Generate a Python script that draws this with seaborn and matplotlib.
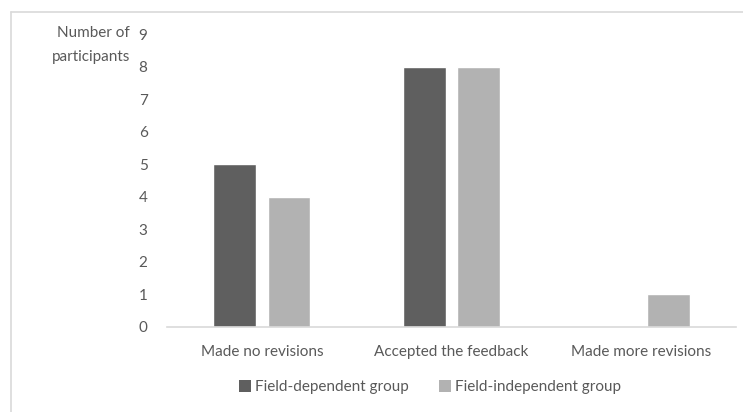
import matplotlib
matplotlib.use("Agg")
import matplotlib.pyplot as plt
from matplotlib.lines import Line2D
from matplotlib.patches import Patch
import pandas as pd
import seaborn as sns

categories = ["Made no revisions", "Accepted the feedback", "Made more revisions"]
groups = ["Field-dependent group", "Field-independent group"]
field_dependent = [5, 8, 0]
field_independent = [4, 8, 1]
y_ticks = list(range(0, 10))

colors = {"Field-dependent group": "#5f5f5f", "Field-independent group": "#b2b2b2"}
text_color = "#595959"

sns.set_theme(style="white")
plt.rcParams["font.family"] = ["Lato", "DejaVu Sans"]

df = pd.DataFrame({
    "category": categories * 2,
    "group": [groups[0]] * 3 + [groups[1]] * 3,
    "value": field_dependent + field_independent,
})

fig = plt.figure(figsize=(7.43, 4.12), dpi=100)
ax = fig.add_axes([167 / 743, 1 - 327 / 412, (736 - 167) / 743, (327 - 34) / 412])

sns.barplot(data=df, x="category", y="value", hue="group", order=categories,
            hue_order=groups, palette=colors, width=0.57, gap=0.21,
            saturation=1, ax=ax, legend=False, errorbar=None)

ax.set_ylim(0, 9)
ax.set_xlim(-0.5, 2.5)
ax.set_yticks(y_ticks)
ax.set_xlabel("")
ax.set_ylabel("")
for side in ["top", "right", "left"]:
    ax.spines[side].set_visible(False)
ax.spines["bottom"].set_color("#d9d9d9")
ax.spines["bottom"].set_linewidth(1.2)
ax.tick_params(axis="both", length=0, colors=text_color, labelsize=11)
ax.tick_params(axis="y", pad=14)
ax.tick_params(axis="x", pad=13)

fig.text(130 / 743, 1 - 45 / 412, "Number of\nparticipants", ha="right", va="center",
         color=text_color, fontsize=11, linespacing=1.85)

handles = [Patch(facecolor=colors[g], edgecolor="none", label=g) for g in groups]
fig.legend(handles=handles, loc="center", bbox_to_anchor=(430 / 743, 1 - 387 / 412),
           ncol=2, frameon=False, fontsize=11, labelcolor=text_color,
           handlelength=0.8, handleheight=0.8, handletextpad=0.25, columnspacing=2.0)

# outer frame lines (top and left)
fig.add_artist(Line2D([10.5 / 743, 1], [1 - 11.5 / 412, 1 - 11.5 / 412],
                      transform=fig.transFigure, color="#d9d9d9", lw=1.2))
fig.add_artist(Line2D([10.5 / 743, 10.5 / 743], [0, 1 - 11.5 / 412],
                      transform=fig.transFigure, color="#d9d9d9", lw=1.2))

fig.savefig("out.png", dpi=100)
